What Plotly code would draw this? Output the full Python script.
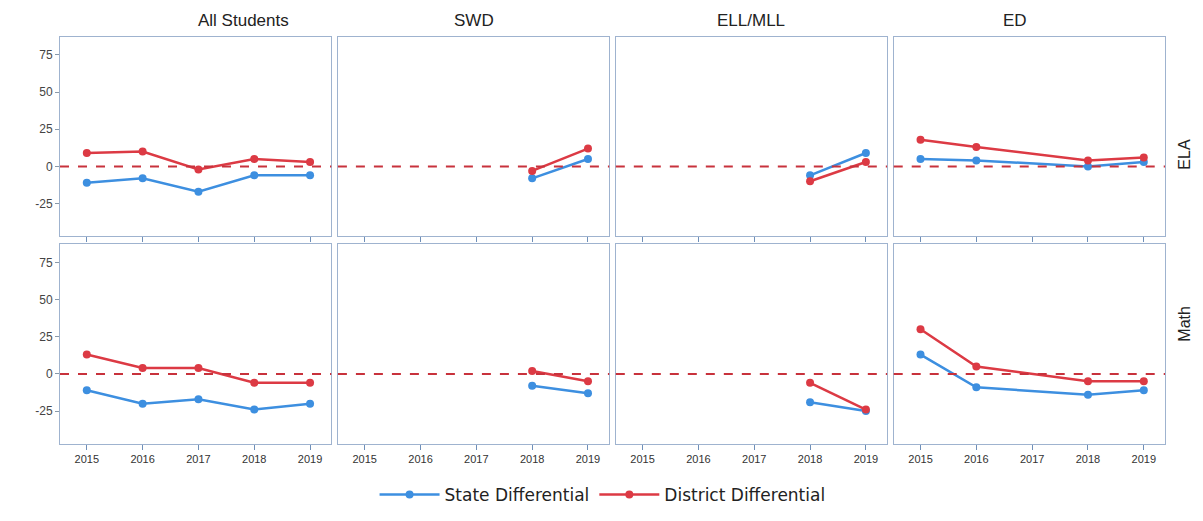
import plotly.graph_objects as go
from plotly.subplots import make_subplots

years = [2015, 2016, 2017, 2018, 2019]
groups = ["All Students", "SWD", "ELL/MLL", "ED"]
subjects = ["ELA", "Math"]

# State Differential values per subject / group (None = no data)
state_ela_all = [-11, -8, -17, -6, -6]
state_ela_swd = [None, None, None, -8, 5]
state_ela_ell = [None, None, None, -6, 9]
state_ela_ed = [5, 4, None, 0, 3]
state_math_all = [-11, -20, -17, -24, -20]
state_math_swd = [None, None, None, -8, -13]
state_math_ell = [None, None, None, -19, -25]
state_math_ed = [13, -9, None, -14, -11]

# District Differential values
dist_ela_all = [9, 10, -2, 5, 3]
dist_ela_swd = [None, None, None, -3, 12]
dist_ela_ell = [None, None, None, -10, 3]
dist_ela_ed = [18, 13, None, 4, 6]
dist_math_all = [13, 4, 4, -6, -6]
dist_math_swd = [None, None, None, 2, -5]
dist_math_ell = [None, None, None, -6, -24]
dist_math_ed = [30, 5, None, -5, -5]

state = {
    "ELA": [state_ela_all, state_ela_swd, state_ela_ell, state_ela_ed],
    "Math": [state_math_all, state_math_swd, state_math_ell, state_math_ed],
}
district = {
    "ELA": [dist_ela_all, dist_ela_swd, dist_ela_ell, dist_ela_ed],
    "Math": [dist_math_all, dist_math_swd, dist_math_ell, dist_math_ed],
}

y_ticks = [75, 50, 25, 0, -25]
y_tick_text = ["75", "50", "25", "0", "-25"]

BLUE = "#3d8fe0"
RED = "#dc3a44"
ZERO = "#c8323c"
BORDER = "#9fb3cf"

fig = make_subplots(rows=2, cols=4, shared_xaxes=True, shared_yaxes=True,
                    horizontal_spacing=0.006, vertical_spacing=0.02)

for r, subj in enumerate(subjects, start=1):
    for c in range(4):
        show = (r == 1 and c == 0)
        fig.add_trace(go.Scatter(
            x=years, y=state[subj][c], mode="lines+markers", connectgaps=True,
            name="State Differential", legendgroup="s", showlegend=show,
            line=dict(color=BLUE, width=2.5), marker=dict(color=BLUE, size=8)),
            row=r, col=c + 1)
        fig.add_trace(go.Scatter(
            x=years, y=district[subj][c], mode="lines+markers", connectgaps=True,
            name="District Differential", legendgroup="d", showlegend=show,
            line=dict(color=RED, width=2.5), marker=dict(color=RED, size=8)),
            row=r, col=c + 1)
        fig.add_hline(y=0, line=dict(color=ZERO, width=2, dash="dash"), row=r, col=c + 1)

fig.update_xaxes(range=[2014.52, 2019.38], tickvals=years, ticktext=[str(y) for y in years],
                 showgrid=False, zeroline=False, showline=True, mirror=True,
                 linecolor=BORDER, linewidth=1, ticks="outside", ticklen=5,
                 tickcolor="#6f8fb8", tickfont=dict(size=11, color="#333333",
                                                   family="Liberation Sans"))
fig.update_yaxes(range=[-47, 87], tickvals=y_ticks, ticktext=y_tick_text,
                 showgrid=False, zeroline=False, showline=True, mirror=True,
                 linecolor=BORDER, linewidth=1, ticks="outside", ticklen=4,
                 tickcolor="#8899aa", tickfont=dict(size=12, color="#444444",
                                                   family="Liberation Sans"))
for c in range(2, 5):
    fig.update_yaxes(ticks="", row=1, col=c)
    fig.update_yaxes(ticks="", row=2, col=c)

annotations = []
for c, g in enumerate(groups):
    ax = fig.layout["xaxis" + ("" if c == 0 else str(c + 1))]
    xc = (ax.domain[0] + ax.domain[1]) / 2
    annotations.append(dict(text=g, x=xc, y=1.0, xref="paper", yref="paper",
                            yanchor="bottom", yshift=5, showarrow=False,
                            font=dict(size=17, color="#222222", family="Liberation Sans")))
for r, subj in enumerate(subjects):
    ax = fig.layout["yaxis" + ("" if r == 0 else str(5))]
    yc = (ax.domain[0] + ax.domain[1]) / 2
    annotations.append(dict(text=subj, x=1.0, y=yc, xref="paper", yref="paper",
                            xanchor="left", xshift=9, textangle=-90, showarrow=False,
                            font=dict(size=16, color="#222222", family="Liberation Sans")))
fig.update_layout(annotations=annotations)

fig.update_layout(
    width=1187, height=505,
    margin=dict(l=52, r=30, t=29, b=62),
    paper_bgcolor="white", plot_bgcolor="white",
    showlegend=True,
    legend=dict(orientation="h", x=0.491, xanchor="center",
                yref="container", y=0.0, yanchor="bottom",
                font=dict(size=17, color="#222222", family="DejaVu Sans"),
                itemwidth=60, tracegroupgap=0),
)

fig.write_html("out.html")
